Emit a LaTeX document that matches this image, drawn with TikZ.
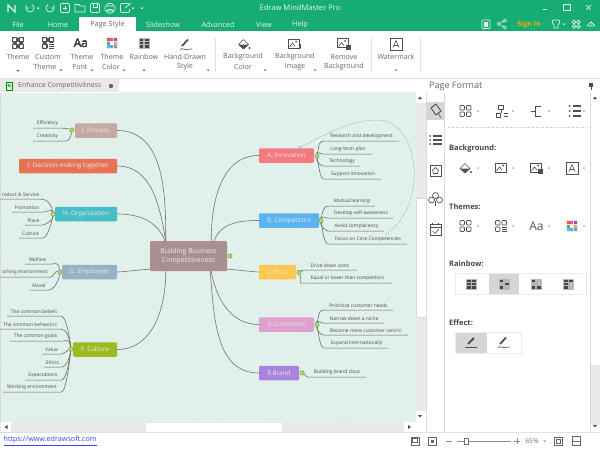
\documentclass[tikz,border=0pt]{standalone}
\usepackage{fontspec}
\setmainfont{Open Sans}
\usetikzlibrary{arrows.meta}

\definecolor{appgreen}{HTML}{17AC76}
\definecolor{canvas}{HTML}{E2F1EC}
\definecolor{canvasline}{HTML}{DCEEE8}
\definecolor{barback}{HTML}{E9E9E9}
\definecolor{txt}{HTML}{666666}
\definecolor{icondark}{HTML}{505050}

\tikzset{
  topic/.style = {rounded corners=1.2pt, minimum height=14.5pt, inner sep=0pt, text=white!92!black, font=\fontsize{6.3}{7}\selectfont},
  leaf/.style = {minimum width=#1pt, minimum height=9pt, inner sep=0pt, text=black!70, font=\fontsize{4.9}{5}\selectfont},
  branch/.style = {draw=black!55, line width=.6pt},
  twig/.style = {draw=black!60, line width=.55pt},
  fork/.style = {out distance=9pt, in distance=5pt},
  near/.style = {out distance=3pt, in distance=3pt},
  fold/.style = {circle, draw={rgb,255:red,110;green,170;blue,60}, fill={rgb,255:red,175;green,218;blue,115}, inner sep=0pt, minimum size=4.4pt, line width=.5pt},
  rlabel/.style = {text=txt, inner sep=0pt, font=\fontsize{7.1}{8}\selectfont},
  tabtext/.style = {text=white!90!appgreen, inner sep=0pt, font=\fontsize{7.2}{8}\selectfont},
  head/.style = {text=black!72, inner sep=0pt, anchor=west, font=\bfseries\fontsize{7.5}{8}\selectfont},
  ic/.style = {draw=icondark, line width=.65pt},
  wic/.style = {draw=white!85!appgreen, line width=.7pt},
  sep/.style = {draw=black!12, line width=.6pt}
}

\newcommand{\caret}[1]{\fill[icondark] (#1) +(-1.5,0) -- +(1.5,0) -- +(0,1.5) -- cycle;}
\newcommand{\gridicon}[1]{\begin{scope}[shift={(#1)}]
  \foreach \i in {-5.5,1} \foreach \j in {-5.5,1} \draw[ic,rounded corners=.8pt] (\i,\j) rectangle +(4.5,4.5);
\end{scope}}
\newcommand{\gridlist}[1]{\begin{scope}[shift={(#1)}]
  \foreach \j in {-5.5,1} \draw[ic,rounded corners=.8pt] (-5.5,\j) rectangle +(4.5,4.5);
  \draw[ic,rounded corners=.8pt] (1,-5.5) rectangle +(4.5,4.5);
  \foreach \j in {1,3,5} \draw[ic] (1,\j) -- (6,\j);
\end{scope}}
\newcommand{\palette}[1]{\begin{scope}[shift={(#1)}]
  \fill[black!8] (-6,-6) rectangle (6,6);
  \foreach \i/\c in {-5/red!70,-1.6/magenta!70,1.8/violet!70} \fill[\c] (\i,-5) rectangle +(3,3);
  \foreach \i/\c in {-5/green!60!black!70,-1.6/white,1.8/orange!70} \fill[\c] (\i,-1.5) rectangle +(3,3);
  \foreach \i/\c in {-5/cyan!70,-1.6/blue!45,1.8/teal!60} \fill[\c] (\i,2) rectangle +(3,3);
\end{scope}}
\newcommand{\tileicon}[2]{\begin{scope}[shift={(#1)}]
  \fill[black!28] (-5.5,-5.5) rectangle (5.5,5.5);
  \foreach \i/\j in {#2} \fill[black!72] (\i,\j) rectangle +(3.9,2.5);
\end{scope}}
\newcommand{\bucket}[1]{\begin{scope}[shift={(#1)}]
  \draw[ic,line join=round] (-5,.5) -- (0,-4.5) -- (5,.5) -- (0,5) -- cycle;
  \fill[icondark] (-5,.5) -- (5,.5) -- (0,5) -- cycle;
  \fill[icondark] (6,4) circle (1.1);
\end{scope}}
\newcommand{\imageicon}[1]{\begin{scope}[shift={(#1)}]
  \draw[ic] (-6,-5) rectangle (5,4);
  \draw[ic] (-4.5,3) -- (-1.5,-1) -- (1,2);
  \fill[icondark] (2,-2.5) circle (1);
\end{scope}}
\newcommand{\trashbox}[1]{\fill[icondark] (#1) +(-2.5,-2) rectangle +(2.5,3);}
\newcommand{\markicon}[1]{\begin{scope}[shift={(#1)}]
  \draw[ic,line width=.9pt] (-6,-6) rectangle (6,6);
  \draw[icondark,line width=.6pt] (-3,3.5) -- (0,-3.5) -- (3,3.5) (-2,1.5) -- (2,1.5);
\end{scope}}
\newcommand{\penicon}[1]{\begin{scope}[shift={(#1)}]
  \draw[icondark,line width=2pt] (-3,2) -- (3,-4);
  \draw[ic,line width=.8pt] (-6,5.5) -- (6,5.5);
\end{scope}}
\newcommand{\pendraw}[1]{\begin{scope}[shift={(#1)}]
  \draw[icondark,line width=1.8pt] (-4,2) -- (2,-4.5);
  \draw[ic] (-6,5.5) .. controls (-3,3) and (-2,7) .. (0,5.5) .. controls (2,4) and (3,6.5) .. (6,5);
\end{scope}}

\begin{document}
\begin{tikzpicture}[x=1pt, y=-1pt]
\useasboundingbox (0,0) rectangle (600,450);
\fill[white] (0,0) rectangle (600,450);

% canvas
\fill[canvas] (0,93) rectangle (416,422);
\begin{scope}
  \clip (0,93) rectangle (416,422);
  \foreach \k in {0,9,...,760} {
    \draw[canvasline,line width=.35pt] (\k,93) -- (\k-330,423);
    \draw[canvasline,line width=.35pt] (\k-340,93) -- (\k-10,423);
  }
\end{scope}
\fill[black!15] (0,93) rectangle (.8,422);

% header
\fill[appgreen] (0,0) rectangle (600,31);
\fill[white] (79,17) rectangle (136,31);
\node[text=white!90!appgreen, inner sep=0pt, font=\fontsize{7.6}{8}\selectfont] (title) at (300,8) {Edraw MindMaster Pro};
\foreach \x/\t [count=\n] in {18/File,58/Home,163/Slideshow,218/Advanced,264/View,300/Help}
  \node[tabtext] (tab\n) at (\x,24.5) {\t};
\node[tabtext,text=txt] (tabpage) at (107.5,24.5) {Page Style};
\node[tabtext,text=orange!70!yellow,font=\bfseries\fontsize{7}{8}\selectfont] (signin) at (529,24.5) {Sign In};

% quick access icons
\draw[wic,line width=1.2pt] (8,12) -- (8,5) -- (15,12) -- (15,5);
\draw[wic] (26,8) arc (180:-60:4) (26,8) -- (26,5) (26,8) -- (29,8);
\draw[wic] (54,8) arc (0:240:4) (54,8) -- (54,5) (54,8) -- (51,8);
\draw[wic,rounded corners=1pt] (60.5,3.5) rectangle (69.5,12.5);
\draw[wic] (63,8) -- (67,8) (65,6) -- (65,10);
\draw[wic] (75,12) -- (75,4.5) -- (79,4.5) -- (80,6) -- (85,6) -- (85,12) -- cycle;
\draw[wic,rounded corners=1pt] (90.5,3.5) rectangle (99.5,12.5);
\draw[wic] (93,3.5) -- (93,7) -- (97,7) -- (97,3.5);
\draw[wic,rounded corners=1pt] (105,6) rectangle (115,11) (107,6) -- (107,3.5) -- (113,3.5) -- (113,6) (107,9.5) rectangle (113,13);
\draw[wic,rounded corners=1pt] (129,6) -- (129,3.5) -- (120.5,3.5) -- (120.5,12.5) -- (129.5,12.5) -- (129.5,9);
\draw[wic] (125,8) -- (131,3);
\foreach \x in {38,133,142} \fill[white] (\x-1.5,7.5) -- (\x+1.5,7.5) -- (\x,9.2) -- cycle;

% window and account icons
\draw[wic] (543,9) -- (547,9);
\draw[wic] (563.5,4) rectangle (570,10);
\draw[wic] (586,5) -- (591,10) (591,5) -- (586,10);
\draw[wic,rounded corners=.8pt] (482,20) rectangle (490,28.5);
\fill[white!85!appgreen] (484,22) rectangle (488,26.5);
\draw[wic] (505,20.5) -- (498.5,24) -- (505,27.5);
\foreach \x/\y in {505/20.5,498.5/24,505/27.5} \filldraw[draw=white!85!appgreen,fill=appgreen,line width=.6pt] (\x,\y) circle (1.5);
\draw[wic,line join=round] (552,21) -- (554,20) -- (558,20) -- (560,21) -- (559,24) -- (558,24) -- (558,28) -- (554,28) -- (554,24) -- (553,24) -- cycle;
\fill[white] (562.5,23.5) -- (565.5,23.5) -- (564,25) -- cycle;
\foreach \x/\y in {574/22,578.5/22,574/26.5,578.5/26.5} \draw[wic] (\x,\y) circle (1.8);
\draw[wic,line width=.9pt] (587,26) -- (591,22) -- (595,26);
\draw[wic] (589,27) -- (591,25) -- (593,27);

% ribbon
\draw[black!12,line width=.8pt] (0,78.5) -- (600,78.5);
\foreach \x in {215,371,420} \draw[sep] (\x,38) -- (\x,72);
\foreach \x/\y/\t [count=\n] in {18/57/Theme,48/57/Custom,45/67/Theme,82/57/Theme,80/67/Font,112/57/Theme,111/67/Color,144/57/Rainbow,185/57/Hand-Drawn,185/67/Style,243/57/Background,243/67/Color,295/57/Background,295/67/Image,344/57/Remove,344/67/Background,396/57/Watermark}
  \node[rlabel] (rib\n) at (\x,\y) {\t};
\foreach \x/\y in {18/70,61/69.5,92/69.5,124/69.5,144/69.5,208/69.5,265/69.5,315/69.5,396/69.5} \caret{\x,\y}
\gridicon{18,43}
\gridlist{48,43}
\node[text=icondark, inner sep=0pt, font=\fontsize{12}{13}\selectfont] (fonta) at (81,43.5) {Aa};
\palette{112,43}
\tileicon{144,43}{-4.5/-4.4,.6/-4.4,-4.5/-1.2,.6/-1.2,-4.5/2,.6/2}
\pendraw{186,44}
\bucket{243.5,44}
\imageicon{294,44}
\draw[ic,->,>={Stealth[length=2.5pt]}] (300,44) -- (300,49.5);
\imageicon{343,43.5}
\trashbox{348,47}
\markicon{396,44}

% tab row
\fill[barback] (0,79) rectangle (119,92);
\fill[black!8] (119,92) rectangle (416,93);
\filldraw[draw=green!55!black,fill=green!20!white,line width=.5pt] (6,82) rectangle (12.5,90);
\node[text=green!50!black, inner sep=0pt, font=\bfseries\fontsize{4}{4}\selectfont] (tabmark) at (9.2,86) {N};
\node[text=txt, inner sep=0pt, anchor=west, font=\fontsize{6.9}{8}\selectfont] (tabname) at (18,86) {Enhance Competitivitness};
\fill[black!60] (111,86) circle (2.2);
\node[text=txt, inner sep=0pt, anchor=west, font=\fontsize{9}{10}\selectfont] (pagefmt) at (429,86) {Page Format};
\draw[icondark,line width=.7pt] (591,83) -- (591,90);
\fill[icondark] (589,82.5) rectangle (593,87);

% scroll bars
\fill[barback] (416,93) rectangle (426,422);
\fill[white] (416,198) rectangle (426,317);
\draw[black!15,line width=.4pt] (416,198) rectangle (426,317);
\fill[white] (416,93) rectangle (426,103);
\fill[white] (416,411) rectangle (426,422);
\fill[icondark] (418,99) -- (422,99) -- (420,96.5) -- cycle;
\fill[icondark] (418,415) -- (422,415) -- (420,417.5) -- cycle;
\fill[barback] (0,422) rectangle (416,432);
\fill[white] (146,422.5) rectangle (282,431.5);
\fill[white] (1,422) rectangle (11,432);
\fill[white] (404,422) rectangle (416,432);
\fill[icondark] (7.5,425) -- (7.5,429) -- (4.5,427) -- cycle;
\fill[icondark] (408,425) -- (408,429) -- (411,427) -- cycle;
\fill[barback] (590,365) rectangle (600,425);
\draw[black!15,line width=.4pt] (590,93) -- (590,432) (444,93) -- (444,432) (426,93) -- (426,432);
\fill[icondark] (593,99) -- (597,99) -- (595,96.5) -- cycle;
\fill[icondark] (593,425) -- (597,425) -- (595,427.5) -- cycle;

% page format panel
\fill[black!16] (426,102) rectangle (444,120);
\draw[icondark,line width=.9pt,line join=round] (431,108) -- (436,104) -- (441,111) -- (436,115) -- cycle;
\draw[ic] (438,113) -- (441,118);
\foreach \y in {136,140,144} {\draw[icondark,line width=1.1pt] (433,\y) -- (442,\y); \fill[icondark] (430,\y) circle (1);}
\draw[ic] (430,165) rectangle (441,176);
\draw[ic] (435.5,167.5) -- (438.5,170) -- (437.5,173.5) -- (433.5,173.5) -- (432.5,170) -- cycle;
\foreach \x/\y in {435.5/195.5,431.5/200,439.5/200} \draw[ic] (\x,\y) circle (3);
\draw[ic] (435.5,201) -- (435.5,206);
\draw[ic] (430,224.5) rectangle (441,235);
\draw[ic] (430,227.5) -- (441,227.5) (432.5,222.5) -- (432.5,225) (438.5,222.5) -- (438.5,225);
\draw[ic] (432.5,231) -- (435,233.5) -- (439,229);

\gridicon{465.5,111}
\draw[ic] (498.5,105.5) rectangle (503.5,109.5) (496,113) rectangle (500.5,117) (501,109.5) -- (501,113) (503.5,113.5) -- (508,113.5) (503.5,116) -- (508,116);
\draw[ic] (531,111) -- (535,111) (535,106) -- (535,116) (535,106) -- (541,106) (535,116) -- (541,116);
\foreach \y in {106,111,116} {\draw[icondark,line width=1.1pt] (573,\y) -- (581,\y); \fill[icondark] (569.5,\y) circle (1);}
\draw[black!25,dotted,line width=.5pt] (448,127) -- (588,127);
\node[head] (hbg) at (449,149) {Background:};
\bucket{465,168}
\imageicon{501,168}
\imageicon{536,168}
\trashbox{540,171}
\markicon{572,168}
\node[head] (hthm) at (449,206.5) {Themes:};
\gridicon{465.5,226}
\gridlist{501,226}
\node[text=icondark, inner sep=0pt, font=\fontsize{12}{13}\selectfont] (panelfont) at (536.5,226.5) {Aa};
\palette{572,226}
\foreach \x/\y in {478/111,513/111,549/111,584/111,478/168,513/168,549/168,584/168,478/226,513/226,549/226,584/226} \fill[black!55] (\x-1.2,\y-.5) -- (\x+1.2,\y-.5) -- (\x,\y+.8) -- cycle;

\node[head] (hrain) at (449,264) {Rainbow:};
\draw[black!8,line width=.5pt] (455.5,273.5) rectangle (586,294.5);
\fill[black!16] (489,274) rectangle (519,294);
\tileicon{471.5,284}{-4.5/-4.4,.6/-4.4,-4.5/-1.2,.6/-1.2,-4.5/2,.6/2}
\tileicon{504,284}{-4.5/-4.4,.6/-1.2,-4.5/2}
\tileicon{536,284}{-4.5/-4.4,-4.5/2,.6/2}
\tileicon{568.5,284}{-4.5/-4.4,.6/-4.4,-4.5/-1.2,-4.5/2}
\node[head] (heff) at (449,323) {Effect:};
\draw[black!8,line width=.5pt] (455.5,332.5) rectangle (521,353.5);
\fill[black!16] (456,333) rectangle (487,353);
\penicon{471,342}
\pendraw{504,342}

% status bar
\draw[black!12,line width=.6pt] (0,432.5) -- (600,432.5);
\node[text=blue!75!white, inner sep=0pt, anchor=west, font=\fontsize{7.2}{8}\selectfont] (link) at (3.5,441) {\underline{https://www.edrawsoft.com}};
\draw[black!60,line width=.7pt] (411,437) rectangle (419,445) (412.5,438.5) rectangle (417.5,442);
\draw[black!60,line width=.7pt] (428.5,437) rectangle (436,445);
\fill[black!60] (431,439.5) rectangle (433.5,442.5);
\draw[black!45,line width=.6pt] (446,441) -- (452,441) (457,441) -- (511,441) (514,441) -- (520,441) (517,438) -- (517,444);
\filldraw[draw=black!55,fill=white,line width=.5pt] (464.5,438) rectangle (468,444.5);
\node[text=black!55, inner sep=0pt, font=\fontsize{6.8}{8}\selectfont] (zoomval) at (532,441) {65\%};
\fill[black!55] (543,440.5) -- (546,440.5) -- (544.5,442) -- cycle;
\draw[black!60,line width=.7pt] (554.5,437) rectangle (562.5,445);
\draw[black!60,line width=.7pt] (556.5,439) rectangle (560.5,443);
\draw[black!60,line width=.7pt] (572.5,436.5) rectangle (580,445.5) (572.5,441) -- (580,441);

% topics
\node[topic,minimum width=77pt,minimum height=30pt,fill={rgb,255:red,168;green,144;blue,144},font=\fontsize{6.9}{8.6}\selectfont,align=center] (ctr) at (188.5,256) {Building Business\\Competitiveness};

\node[topic,fill={rgb,255:red,244;green,122;blue,128},minimum width=55pt] (a) at (286.5,155.5) {A. Innovation};
\node[topic,fill={rgb,255:red,90;green,180;blue,240},minimum width=60pt] (b) at (289,220.5) {B. Competitors};
\node[topic,fill={rgb,255:red,255;green,198;blue,80},minimum width=37pt] (c) at (277.5,272) {C.Price};
\node[topic,fill={rgb,255:red,222;green,160;blue,204},minimum width=55pt] (d) at (286.5,324.5) {D.Customers};
\node[topic,fill={rgb,255:red,168;green,132;blue,220},minimum width=40pt] (e) at (279,373) {E.Brand};
\node[topic,fill={rgb,255:red,157;green,187;blue,32},minimum width=44pt] (f) at (95,349.5) {F. Culture};
\node[topic,fill={rgb,255:red,148;green,180;blue,198},minimum width=55pt] (g) at (89.5,272) {G. Employees};
\node[topic,fill={rgb,255:red,70;green,190;blue,198},minimum width=62pt] (h) at (86,214) {H. Organization};
\node[topic,fill={rgb,255:red,232;green,114;blue,86},minimum width=98pt] (i) at (68,166) {I. Decision-making together};
\node[topic,fill={rgb,255:red,196;green,170;blue,164},minimum width=42pt] (j) at (96,130.5) {J. Process};

\foreach \n/\x/\y in {afold/317/156,bfold/321/220.5,cfold/299/272.5,dfold/317/324.5,efold/302/373,ffold/71/349,gfold/60/272,hfold/53/214,jfold/72/130,ctrfold/230/256}
  \node[fold] (\n) at (\x,\y) {};

% branches
\draw[branch] ([xshift=16pt]ctr.north west) to[out=90,in=0] (j.east);
\draw[branch] ([xshift=16pt]ctr.north west) to[out=100,in=0] (i.east);
\draw[branch] ([xshift=15pt]ctr.north west) to[out=110,in=0] (h.east);
\draw[branch] ([yshift=2pt]ctr.south west) to[out=180,in=0,looseness=.4] (g.east);
\draw[branch] ([xshift=16pt]ctr.south west) to[out=-90,in=0] (f.east);
\draw[branch] ([xshift=-16pt]ctr.north east) to[out=90,in=180] (a.west);
\draw[branch] ([xshift=-13pt]ctr.north east) to[out=70,in=180] (b.west);
\draw[branch] ([yshift=2pt]ctr.south east) to[out=0,in=180,looseness=.4] (c.west);
\draw[branch] ([xshift=-16pt]ctr.south east) to[out=-80,in=180] (d.west);
\draw[branch] ([xshift=-17pt]ctr.south east) to[out=-85,in=180] (e.west);

% leaves, right side
\node[leaf=75] (a1) at (361.5,136.5) {Research and development};
\node[leaf=48] (a2) at (348,149.5) {Long-term plan};
\node[leaf=36] (a3) at (342,161.5) {Technology};
\node[leaf=56] (a4) at (353,174.5) {Support innovation};
\node[leaf=46] (b1) at (352,201.5) {Mutual learning};
\node[leaf=64] (b2) at (361,213.5) {Develop self-awareness};
\node[leaf=55] (b3) at (356.5,226.5) {Avoid complacency};
\node[leaf=78] (b4) at (368,239.5) {Focus on Core Competencies};
\node[leaf=54] (c1) at (330,265.5) {Drive down costs};
\node[leaf=89] (c2) at (347.5,278.5) {Equal or lower than competitors};
\node[leaf=69] (d1) at (358.5,305.5) {Prioritize customer needs};
\node[leaf=60] (d2) at (354,318.5) {Narrow down a niche};
\node[leaf=84] (d3) at (366,330.5) {Become more customer centric};
\node[leaf=63] (d4) at (356.5,343.5) {Expand Internationally};
\node[leaf=58] (e1) at (337,372.5) {Building brand clout};

% leaves, left side
\node[leaf=29] (j1) at (47.5,123.5) {Efficiency};
\node[leaf=29] (j2) at (47.5,136.5) {Creativity};
\node[leaf=41] (h1) at (20.5,194.5) {roduct \& Service};
\node[leaf=30] (h2) at (27,207.5) {Promotion};
\node[leaf=17] (h3) at (33.5,220.5) {Place};
\node[leaf=23] (h4) at (30.5,233.5) {Culture};
\node[leaf=25] (g1) at (37.5,259.5) {Welfare};
\node[leaf=50] (g2) at (25,272.5) {orking environment};
\node[leaf=18] (g3) at (39,285.5) {Moral};
\node[leaf=54] (f1) at (34,311.5) {The common beliefs};
\node[leaf=62] (f2) at (30,324.5) {The common behaviors};
\node[leaf=51] (f3) at (35.5,336.5) {The common goals};
\node[leaf=19] (f4) at (51.5,349.5) {Value};
\node[leaf=17] (f5) at (52.5,362.5) {Ethics};
\node[leaf=36] (f6) at (43,375.5) {Expectations};
\node[leaf=58] (f7) at (32,387.5) {Working environment};

% twigs
\foreach \t/\u/\s in {a1/80/fork,a2/100/near,a3/-100/near,a4/-80/fork} \draw[twig] (afold) to[out=\u,in=180,\s] (\t.south west) -- (\t.south east);
\foreach \t/\u/\s in {b1/80/fork,b2/100/near,b3/-100/near,b4/-80/fork} \draw[twig] (bfold) to[out=\u,in=180,\s] (\t.south west) -- (\t.south east);
\foreach \t/\u/\s in {c1/20/near,c2/-70/fork} \draw[twig] (cfold) to[out=\u,in=180,\s] (\t.south west) -- (\t.south east);
\foreach \t/\u/\s in {d1/80/fork,d2/100/near,d3/-100/near,d4/-80/fork} \draw[twig] (dfold) to[out=\u,in=180,\s] (\t.south west) -- (\t.south east);
\draw[twig] (efold) to[out=-20,in=180,near] (e1.south west) -- (e1.south east);
\foreach \t/\u/\s in {j1/160/near,j2/-100/fork} \draw[twig] (jfold) to[out=\u,in=0,\s] (\t.south east) -- (\t.south west);
\foreach \t/\u/\s in {h1/100/fork,h2/80/near,h3/-80/near,h4/-100/fork} \draw[twig] (hfold) to[out=\u,in=0,\s] (\t.south east) -- (\t.south west);
\foreach \t/\u/\s in {g1/100/fork,g2/165/near,g3/-100/fork} \draw[twig] (gfold) to[out=\u,in=0,\s] (\t.south east) -- (\t.south west);
\foreach \t/\u/\s in {f1/97/fork,f2/97/fork,f3/100/fork,f4/-160/near,f5/-100/fork,f6/-97/fork,f7/-97/fork} \draw[twig] (ffold) to[out=\u,in=0,\s] (\t.south east) -- (\t.south west);

% relationship line
\coordinate (relstart) at (385,235);
\draw[black!25,line width=.5pt,-{Stealth[length=3.5pt,width=3pt]}] (relstart) .. controls (430,205) and (420,120) .. (377,120) .. controls (350,120) and (325,135) .. ([xshift=-16pt]a.north east);
\end{tikzpicture}
\end{document}
